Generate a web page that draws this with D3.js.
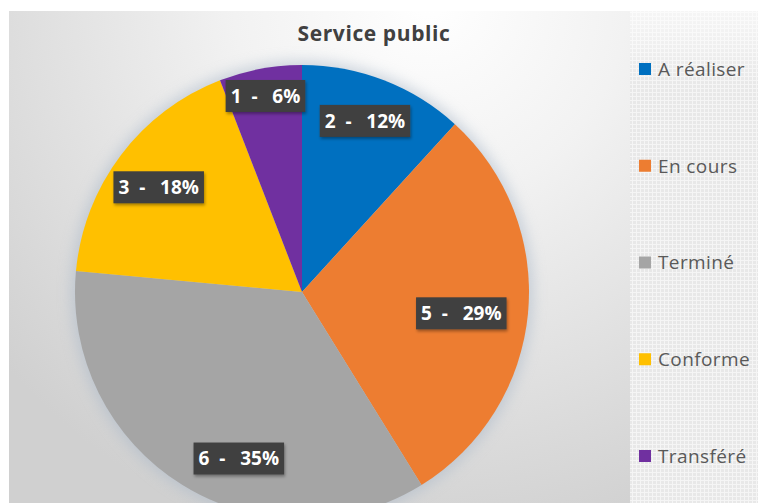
<!DOCTYPE html>
<html><head><meta charset="utf-8">
<script src="https://cdn.jsdelivr.net/npm/d3@7/dist/d3.min.js"></script>
<style>
html,body{margin:0;padding:0;background:#fff;}
svg{display:block;}
text{white-space:pre;}
</style></head>
<body>
<svg id="chart" width="758" height="503"></svg>
<script>
// ---- data ----
const title = "Service public";
const categories = ["A réaliser", "En cours", "Terminé", "Conforme", "Transféré"];
const counts = [2, 5, 6, 3, 1];
const percentLabels = ["12%", "29%", "35%", "18%", "6%"];
const colors = ["#0070C0", "#ED7D31", "#A5A5A5", "#FFC000", "#7030A0"];

// ---- layout (not data) ----
const W = 758, H = 503;
const cx = 302, cy = 292, R = 227;
const labelNudge = [[-1,-6],[-17,5],[30,16],[-2,2],[-4,-22]];

const svg = d3.select("#chart");
const defs = svg.append("defs");

const bg = defs.append("radialGradient").attr("id","bg")
  .attr("gradientUnits","userSpaceOnUse").attr("cx",430).attr("cy",0).attr("r",560);
bg.append("stop").attr("offset","0").attr("stop-color","#ffffff");
bg.append("stop").attr("offset","0.35").attr("stop-color","#f2f2f2");
bg.append("stop").attr("offset","1").attr("stop-color","#d0d0d0");

const pat = defs.append("pattern").attr("id","grid").attr("width",4).attr("height",4)
  .attr("patternUnits","userSpaceOnUse");
pat.append("rect").attr("width",4).attr("height",4).attr("fill","#e8e8e8");
pat.append("path").attr("d","M0,0.5H4M0.5,0V4").attr("stroke","#f5f5f5").attr("stroke-width",1);

const legGrad = defs.append("linearGradient").attr("id","legfade").attr("x1",0).attr("y1",0).attr("x2",0).attr("y2",1);
legGrad.append("stop").attr("offset","0").attr("stop-color","#ffffff").attr("stop-opacity",0.6);
legGrad.append("stop").attr("offset","0.15").attr("stop-color","#ffffff").attr("stop-opacity",0.0);
legGrad.append("stop").attr("offset","1").attr("stop-color","#ffffff").attr("stop-opacity",0.0);

const glow = defs.append("filter").attr("id","glow").attr("x","-20%").attr("y","-20%").attr("width","140%").attr("height","140%");
glow.append("feGaussianBlur").attr("stdDeviation",7);

const shadow = defs.append("filter").attr("id","shadow").attr("x","-20%").attr("y","-30%").attr("width","140%").attr("height","160%");
shadow.append("feDropShadow").attr("dx",1).attr("dy",2).attr("stdDeviation",1.5).attr("flood-color","#000").attr("flood-opacity",0.35);

// background
svg.append("rect").attr("width",W).attr("height",H).attr("fill","#ffffff");
svg.append("rect").attr("x",9).attr("y",11).attr("width",W-9).attr("height",H-11).attr("fill","url(#bg)");
svg.append("rect").attr("x",630).attr("y",11).attr("width",W-630).attr("height",H-11).attr("fill","url(#grid)");
svg.append("rect").attr("x",630).attr("y",11).attr("width",W-630).attr("height",H-11).attr("fill","url(#legfade)");

// title
svg.append("text").attr("x",374).attr("y",41).attr("text-anchor","middle")
  .attr("font-family","Open Sans, sans-serif").attr("font-weight","bold").attr("font-size",21)
  .attr("letter-spacing",0.6)
  .attr("fill","#404040").text(title);

// pie
const pie = d3.pie().sort(null).value(d => d.v);
const data = categories.map((c,i) => ({c, v: counts[i], p: percentLabels[i], col: colors[i]}));
const arcs = pie(data);
const arc = d3.arc().innerRadius(0).outerRadius(R);
const labelArc = d3.arc().innerRadius(R*0.78).outerRadius(R*0.78);

const g = svg.append("g").attr("transform",`translate(${cx},${cy})`);
g.append("circle").attr("r",R+4).attr("fill","#a9b7c8").attr("opacity",0.55).attr("filter","url(#glow)");
g.selectAll("path.slice").data(arcs).join("path").attr("class","slice")
  .attr("d",arc).attr("fill",d => d.data.col);

// labels
const lg = g.selectAll("g.lbl").data(arcs).join("g").attr("class","lbl")
  .attr("transform",(d,i) => {
    const [x,y] = labelArc.centroid(d);
    return `translate(${x+labelNudge[i][0]},${y+labelNudge[i][1]})`;
  });
lg.append("rect").attr("fill","#3f3f3f").attr("filter","url(#shadow)");
lg.append("text").attr("text-anchor","middle").attr("dy","0.36em")
  .attr("font-family","Open Sans, sans-serif").attr("font-weight","bold").attr("font-size",19)
  .attr("fill","#ffffff").text(d => `${d.data.v}  -   ${d.data.p}`);
lg.each(function(){
  const t = d3.select(this).select("text").node().getBBox();
  d3.select(this).select("rect").attr("x",t.x-5).attr("y",-16).attr("width",t.width+10).attr("height",32);
});

// legend
const leg = svg.append("g");
const ly = d3.scalePoint().domain(categories).range([69, 456]);
const li = leg.selectAll("g").data(data).join("g").attr("transform",d => `translate(639,${ly(d.c)})`);
li.append("rect").attr("x",0).attr("y",-6).attr("width",12).attr("height",12).attr("fill",d => d.col);
li.append("text").attr("x",19).attr("dy","0.36em")
  .attr("font-family","Open Sans, sans-serif").attr("font-size",19).attr("letter-spacing",0.4)
  .attr("fill","#595959").text(d => d.c);
</script>
</body></html>
